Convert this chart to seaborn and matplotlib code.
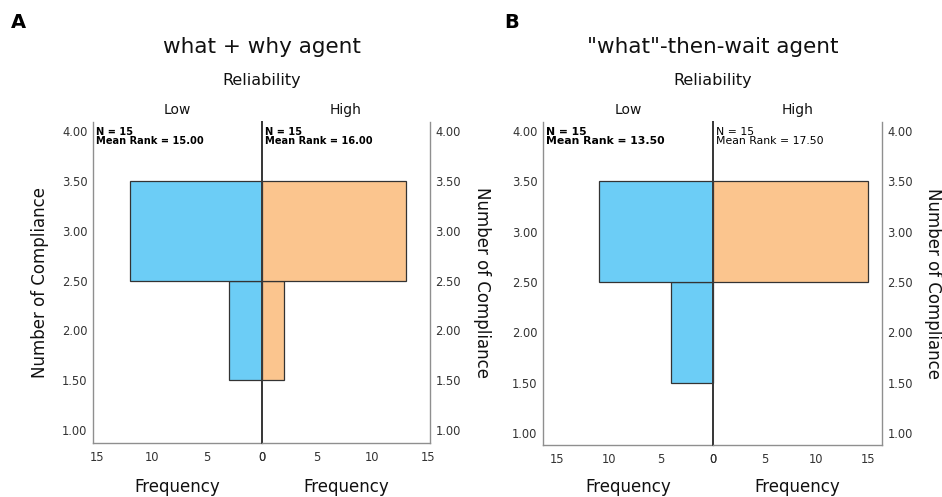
import numpy as np
import pandas as pd
import matplotlib
matplotlib.use("Agg")
import matplotlib.pyplot as plt
import seaborn as sns

# ---- data ----
levels = [2, 3]                      # Number of Compliance (bin centres)
a_low = [3, 12]                      # what + why agent, Low reliability
a_high = [2, 13]                     # what + why agent, High reliability
b_low = [4, 11]                      # "what"-then-wait agent, Low reliability
b_high = [0, 15]                     # "what"-then-wait agent, High reliability
y_ticks = [1.0, 1.5, 2.0, 2.5, 3.0, 3.5, 4.0]
x_ticks = [0, 5, 10, 15]
titles = ["what + why agent", "\"what\"-then-wait agent"]
letters = ["A", "B"]
group_names = ["Low", "High"]
stats_a = [("N = 15", "Mean Rank = 15.00"), ("N = 15", "Mean Rank = 16.00")]
stats_b = [("N = 15", "Mean Rank = 13.50"), ("N = 15", "Mean Rank = 17.50")]

BLUE = "#6CCDF6"
ORANGE = "#FBC58E"
EDGE = "#333333"
FRAME = "#8f8f8f"
CENTER = "#3a3a3a"
TXT = "#111111"
TICK = "#333333"

sns.set_theme(style="white")
plt.rcParams["font.family"] = ["DejaVu Sans"]

W, H = 942, 497
fig = plt.figure(figsize=(W / 100, H / 100), dpi=100)


def rect(x0, y0, x1, y1):
    return [x0 / W, 1 - y1 / H, (x1 - x0) / W, (y1 - y0) / H]


def ftext(x, y, s, **kw):
    fig.text(x / W, 1 - y / H, s, **kw)


panels = [
    dict(left=93, mid=262, right=430, top=122, bottom=443, xl=15.35, xr=15.2,
         ylim=(0.87, 4.09), low=a_low, high=a_high, stats=stats_a,
         weights=("bold", "bold"), ssize=(7.1, 7.1), letter_x=18,
         ylab_left=40, ylab_right=482),
    dict(left=543, mid=713, right=882, top=122, bottom=445, xl=16.35, xr=16.35,
         ylim=(0.88, 4.09), low=b_low, high=b_high, stats=stats_b,
         weights=("bold", "normal"), ssize=(7.8, 7.8), letter_x=512,
         ylab_left=None, ylab_right=933),
]

for i, p in enumerate(panels):
    ax_l = fig.add_axes(rect(p["left"], p["top"], p["mid"], p["bottom"]))
    ax_r = fig.add_axes(rect(p["mid"], p["top"], p["right"], p["bottom"]))
    ax_r.patch.set_alpha(0)
    for ax, counts, color, xmax, side in [
        (ax_l, p["low"], BLUE, p["xl"], "left"),
        (ax_r, p["high"], ORANGE, p["xr"], "right"),
    ]:
        df = pd.DataFrame({"level": levels, "count": counts})
        sns.histplot(data=df, y="level", weights="count", discrete=True,
                     color=color, alpha=1, edgecolor=EDGE, linewidth=0.9, ax=ax)
        ax.set_ylim(*p["ylim"])
        ax.set_yticks(y_ticks)
        ax.set_xticks(x_ticks)
        ax.set_xlabel("")
        ax.set_ylabel("")
        ax.spines["top"].set_visible(False)
        ax.spines["bottom"].set_color(FRAME)
        ax.spines["bottom"].set_linewidth(1.0)
        if side == "left":
            ax.set_xlim(xmax, 0)
            ax.spines["left"].set_color(FRAME)
            ax.spines["left"].set_linewidth(1.0)
            ax.spines["right"].set_color(CENTER)
            ax.spines["right"].set_linewidth(1.4)
        else:
            ax.set_xlim(0, xmax)
            ax.spines["left"].set_color(CENTER)
            ax.spines["left"].set_linewidth(1.4)
            ax.spines["right"].set_color(FRAME)
            ax.spines["right"].set_linewidth(1.0)
            ax.yaxis.tick_right()
        ax.set_yticklabels([f"{v:.2f}" for v in y_ticks])
        ax.tick_params(axis="both", length=0, labelsize=8.3, colors=TICK)
        ax.tick_params(axis="y", pad=4)
        ax.tick_params(axis="x", pad=6)
        ax.set_xticklabels([str(t) for t in x_ticks])
        ax.grid(False)

    # annotations
    for j, (ax, (l1, l2)) in enumerate(zip([ax_l, ax_r], p["stats"])):
        ax.text(0.018, 0.985, l1 + "\n" + l2, transform=ax.transAxes,
                ha="left", va="top", fontsize=p["ssize"][j],
                fontweight=p["weights"][j], color="black", linespacing=0.95)

    cx = p["mid"]
    ftext(p["letter_x"], 22, letters[i], ha="center", va="center",
          fontsize=14, fontweight="bold", color="black")
    ftext(cx, 47, titles[i], ha="center", va="center", fontsize=15.5, color=TXT)
    ftext(cx, 80, "Reliability", ha="center", va="center", fontsize=11.5, color=TXT)
    ftext((p["left"] + cx) / 2, 110, group_names[0], ha="center", va="center",
          fontsize=10, color=TXT)
    ftext((cx + p["right"]) / 2, 110, group_names[1], ha="center", va="center",
          fontsize=10, color=TXT)
    ftext((p["left"] + cx) / 2, 487, "Frequency", ha="center", va="center",
          fontsize=12, color=TXT)
    ftext((cx + p["right"]) / 2, 487, "Frequency", ha="center", va="center",
          fontsize=12, color=TXT)
    ymid = (p["top"] + p["bottom"]) / 2
    if p["ylab_left"] is not None:
        ftext(p["ylab_left"], ymid, "Number of Compliance", ha="center",
              va="center", rotation=90, fontsize=12, color=TXT)
    ftext(p["ylab_right"], ymid, "Number of Compliance", ha="center",
          va="center", rotation=270, fontsize=12, color=TXT)

fig.savefig("out.png", dpi=100, facecolor="white")
